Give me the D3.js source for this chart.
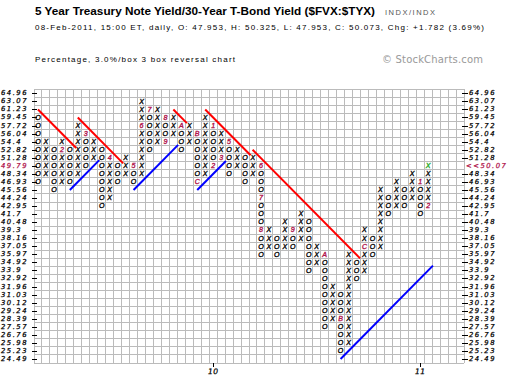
<!DOCTYPE html>
<html>
<head>
<meta charset="utf-8">
<script src="https://cdn.jsdelivr.net/npm/d3@7"></script>
<style>
body { margin: 0; background: #fff; }
svg { display: block; }
</style>
</head>
<body>
<div id="chart"></div>
<script>
// box values of the grid, top to bottom (3% boxes)
const boxPrices = [64.96, 63.07, 61.23, 59.45, 57.72, 56.04, 54.4, 52.82, 51.28, 49.79,
	48.34, 46.93, 45.56, 44.24, 42.95, 41.7, 40.48, 39.3, 38.16, 37.05,
	35.97, 34.92, 33.9, 32.92, 31.96, 31.03, 30.12, 29.24, 28.39, 27.57,
	26.76, 25.98, 25.23, 24.49];

// highest / lowest box of each column (columns alternate O, X, O, X ...)
const colHigh = [59.45, 54.4, 52.82, 54.4, 52.82, 57.72, 56.04, 54.4, 52.82, 51.28,
	49.79, 51.28, 49.79, 63.07, 61.23, 61.23, 59.45, 59.45, 57.72, 57.72,
	56.04, 59.45, 57.72, 56.04, 54.4, 52.82, 51.28, 51.28, 49.79, 39.3,
	38.16, 40.48, 39.3, 41.7, 40.48, 37.05, 35.97, 31.96, 31.03, 35.97,
	34.92, 39.3, 38.16, 45.56, 44.24, 46.93, 45.56, 48.34, 46.93, 49.79];
const colLow = [46.93, 48.34, 45.56, 46.93, 46.93, 48.34, 49.79, 51.28, 42.95, 44.24,
	46.93, 48.34, 46.93, 48.34, 52.82, 54.4, 54.4, 56.04, 52.82, 54.4,
	46.93, 48.34, 49.79, 51.28, 48.34, 49.79, 46.93, 48.34, 35.97, 37.05,
	35.97, 37.05, 37.05, 38.16, 33.9, 34.92, 27.57, 28.39, 25.23, 25.98,
	32.92, 33.9, 35.97, 37.05, 41.7, 42.95, 42.95, 44.24, 41.7, 42.95];

// month markers shown in place of a box
const monthCols = [3, 6, 9, 12, 13, 14, 16, 16, 18, 20, 20, 22, 22, 23, 24, 28, 28, 28, 32, 36, 38, 41, 48, 49];
const monthBoxes = [52.82, 56.04, 51.28, 49.79, 57.72, 61.23, 59.45, 54.4, 57.72, 56.04, 46.93, 57.72, 49.79,
	51.28, 54.4, 49.79, 44.24, 39.3, 39.3, 35.97, 28.39, 37.05, 46.93, 42.95];
const monthLabels = ["2", "3", "4", "5", "6", "7", "8", "9", "A", "B", "C", "1", "2",
	"3", "5", "6", "7", "8", "9", "A", "B", "C", "1", "2"];

// year starts on the x axis
const yearCols = [22, 48];
const yearLabels = ["10", "11"];

const lastPrice = 50.07;

// trend lines in grid units [column, box row] (row 0 = top box)
const resistanceLines = [
	[[0.5, 2.5], [5.3, 7.3]],
	[[5.5, 3.5], [11.2, 9.2]],
	[[17.5, 2.5], [19.2, 4.2]],
	[[21.5, 2.5], [27.2, 8.2]],
	[[27.45, 7.5], [40.95, 21.0]]
];
const supportLines = [
	[[4.5, 12.5], [8.2, 8.8]],
	[[12.5, 12.5], [18.1, 6.9]],
	[[20.5, 12.5], [24.1, 8.9]],
	[[38.5, 33.5], [50.1, 21.9]]
];

const width = 520, height = 386;
const NCOLS = 54;
const CRIMSON = "#b0124a";
const FONT = "'DejaVu Sans', Verdana, sans-serif";

const svg = d3.select("#chart").append("svg")
	.attr("width", width)
	.attr("height", height);

const x = d3.scaleLinear().domain([0, NCOLS]).range([34, 464]);
const y = d3.scaleLinear().domain([0, boxPrices.length]).range([89.3, 363]);
const rowOf = p => boxPrices.indexOf(p);

// header texts
svg.append("text")
	.attr("x", 35).attr("y", 15)
	.attr("font-family", "'Liberation Sans', Arial, sans-serif")
	.attr("font-weight", "bold")
	.attr("font-size", 10.5)
	.attr("textLength", 340)
	.attr("lengthAdjust", "spacingAndGlyphs")
	.text("5 Year Treasury Note Yield/30-Year T-Bond Yield ($FVX:$TYX)");

svg.append("text")
	.attr("x", 385).attr("y", 15)
	.attr("font-family", "'Liberation Sans', Arial, sans-serif")
	.attr("font-size", 7.5)
	.attr("fill", "#555")
	.attr("textLength", 50)
	.text("INDX/INDX");

svg.append("text")
	.attr("x", 35).attr("y", 29.5)
	.attr("font-family", "'Liberation Sans', Arial, sans-serif")
	.attr("font-size", 8)
	.attr("textLength", 449)
	.text("08-Feb-2011, 15:00 ET, daily, O: 47.953, H: 50.325, L: 47.953, C: 50.073, Chg: +1.782 (3.69%)");

svg.append("text")
	.attr("x", 35).attr("y", 62)
	.attr("font-family", "'Liberation Sans', Arial, sans-serif")
	.attr("font-size", 8)
	.attr("textLength", 200)
	.text("Percentage, 3.0%/box 3 box reversal chart");

svg.append("text")
	.attr("x", 382).attr("y", 62.5)
	.attr("font-family", FONT)
	.attr("font-size", 10)
	.attr("fill", "#999")
	.attr("textLength", 101)
	.text("\u00a9 StockCharts.com");

// grid
const grid = svg.append("g")
	.attr("stroke", "#bbb")
	.attr("stroke-width", 1)
	.attr("shape-rendering", "crispEdges");

grid.selectAll("line.v")
	.data(d3.range(NCOLS + 1))
	.join("line")
	.attr("class", "v")
	.attr("x1", d => x(d)).attr("x2", d => x(d))
	.attr("y1", y(0)).attr("y2", y(boxPrices.length));

grid.selectAll("line.h")
	.data(d3.range(boxPrices.length + 1))
	.join("line")
	.attr("class", "h")
	.attr("y1", d => y(d)).attr("y2", d => y(d))
	.attr("x1", x(0)).attr("x2", x(NCOLS));

// price labels + ticks on both sides
const axisFont = g => g
	.attr("font-family", FONT)
	.attr("font-style", "italic")
	.attr("font-size", 6.8)
	.attr("letter-spacing", 1.5)
	.attr("stroke-width", 0.25)
	.attr("dominant-baseline", "central");

const lastRow = d3.minIndex(boxPrices, p => Math.abs(p - lastPrice));

svg.append("g").call(axisFont)
	.selectAll("text")
	.data(boxPrices)
	.join("text")
	.attr("x", 1)
	.attr("y", (d, i) => y(i + 0.5))
	.attr("fill", (d, i) => i === lastRow ? CRIMSON : "#000")
	.attr("stroke", (d, i) => i === lastRow ? CRIMSON : "#000")
	.text(d => d);

svg.append("g").call(axisFont)
	.selectAll("text")
	.data(boxPrices)
	.join("text")
	.attr("x", (d, i) => i === lastRow ? 466 : 469)
	.attr("y", (d, i) => y(i + 0.5))
	.attr("fill", (d, i) => i === lastRow ? CRIMSON : "#000")
	.attr("stroke", (d, i) => i === lastRow ? CRIMSON : "#000")
	.text((d, i) => i === lastRow ? "<<" + lastPrice.toFixed(2) : d);

const ticks = svg.append("g")
	.attr("stroke", "#000")
	.attr("shape-rendering", "crispEdges");
ticks.selectAll("line.l")
	.data(boxPrices)
	.join("line")
	.attr("class", "l")
	.attr("x1", 32).attr("x2", 37)
	.attr("y1", (d, i) => Math.round(y(i + 0.5)) + 0.5)
	.attr("y2", (d, i) => Math.round(y(i + 0.5)) + 0.5);
ticks.selectAll("line.r")
	.data(boxPrices.filter((d, i) => i !== lastRow))
	.join("line")
	.attr("class", "r")
	.attr("x1", 462).attr("x2", 468)
	.attr("y1", d => Math.round(y(rowOf(d) + 0.5)) + 0.5)
	.attr("y2", d => Math.round(y(rowOf(d) + 0.5)) + 0.5);

// year ticks on the bottom
ticks.selectAll("line.yr")
	.data(yearCols)
	.join("line")
	.attr("class", "yr")
	.attr("x1", d => Math.round(x(d + 0.5)) + 0.5)
	.attr("x2", d => Math.round(x(d + 0.5)) + 0.5)
	.attr("y1", y(boxPrices.length)).attr("y2", y(boxPrices.length) + 4);

svg.append("g").call(axisFont)
	.attr("font-size", 7.5)
	.attr("letter-spacing", 0.5)
	.attr("stroke", "#000")
	.selectAll("text")
	.data(yearLabels)
	.join("text")
	.attr("text-anchor", "middle")
	.attr("x", (d, i) => x(yearCols[i] + 0.5))
	.attr("y", 371)
	.text(d => d);

// build the boxes
const markers = new Map();
monthCols.forEach((c, i) => markers.set(c + ":" + rowOf(monthBoxes[i]), monthLabels[i]));

const boxes = [];
colHigh.forEach((hi, c) => {
	const kind = c % 2 === 0 ? "O" : "X";
	for (let r = rowOf(hi); r <= rowOf(colLow[c]); r++) {
		const key = c + ":" + r;
		const isLast = c === colHigh.length - 1 && r === rowOf(hi);
		boxes.push({
			col: c, row: r,
			label: markers.has(key) ? markers.get(key) : kind,
			color: markers.has(key) ? CRIMSON : (isLast ? "#22a822" : "#000")
		});
	}
});

svg.append("g")
	.attr("font-family", "'Liberation Sans', Arial, sans-serif")
	.attr("font-style", "italic")
	.attr("font-size", 7.1)
	.attr("stroke-width", 0.35)
	.attr("text-anchor", "middle")
	.attr("dominant-baseline", "central")
	.selectAll("text")
	.data(boxes)
	.join("text")
	.attr("x", d => x(d.col + 0.5))
	.attr("y", d => y(d.row + 0.5) + 0.3)
	.attr("fill", d => d.color)
	.attr("stroke", d => d.color)
	.text(d => d.label);

// trend lines
const line = d3.line().x(d => x(d[0])).y(d => y(d[1]));
svg.append("g")
	.attr("fill", "none")
	.attr("stroke-width", 2)
	.selectAll("path")
	.data(resistanceLines.map(p => ({ pts: p, color: "#ff0000" }))
		.concat(supportLines.map(p => ({ pts: p, color: "#0000ff" }))))
	.join("path")
	.attr("stroke", d => d.color)
	.attr("d", d => line(d.pts));
</script>
</body>
</html>
